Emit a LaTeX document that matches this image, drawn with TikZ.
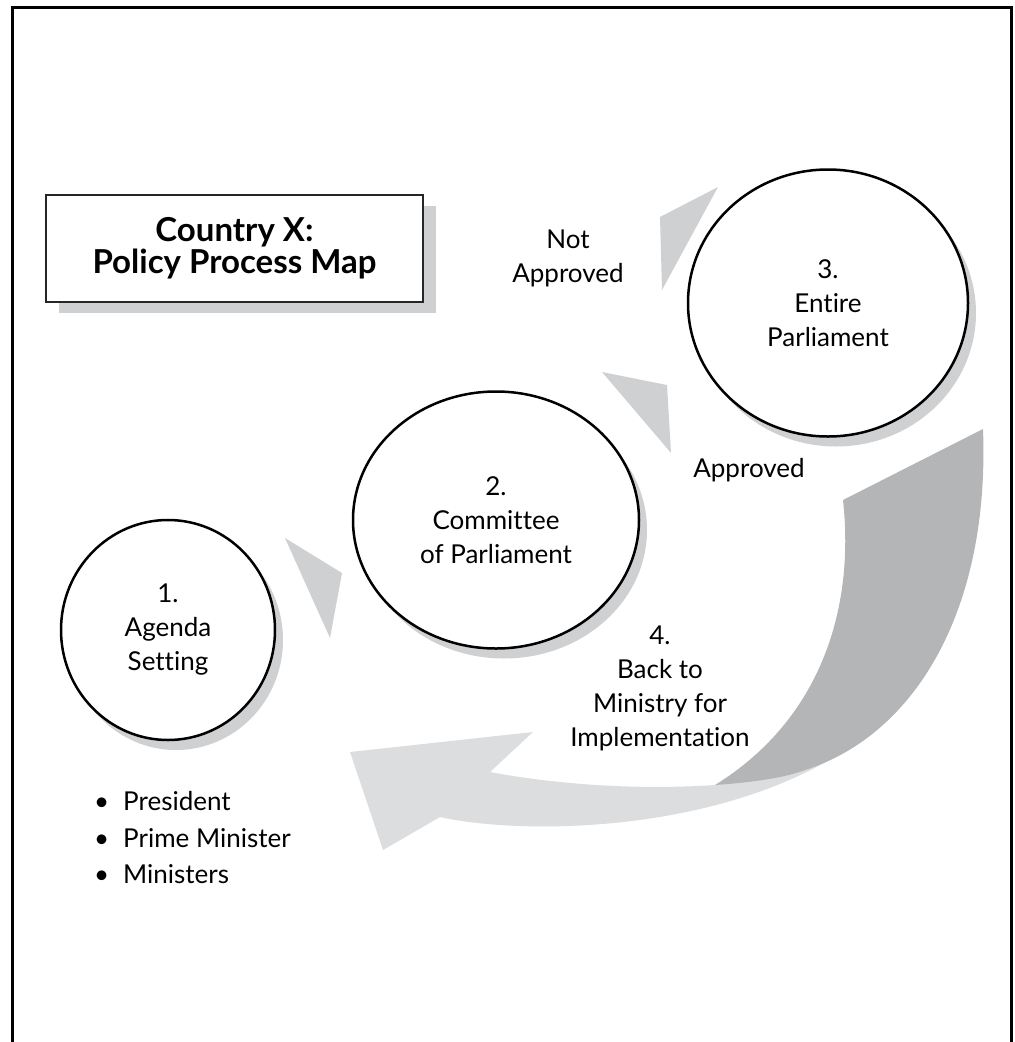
\documentclass[tikz,border=0pt]{standalone}
\usepackage{fontspec}
\setmainfont{Lato}[Ligatures={NoCommon}]
\usetikzlibrary{shapes.geometric,shadows}
\definecolor{tri}{HTML}{CFD0D2}
\definecolor{shade}{HTML}{CFD0D2}
\definecolor{arrowlight}{HTML}{DCDDDE}
\definecolor{arrowdark}{HTML}{B4B5B6}
\begin{document}
\begin{tikzpicture}[x=1pt,y=-1pt,
  stage/.style={ellipse, draw=black, line width=2.5pt, fill=white, align=center, inner sep=0pt,
    font=\fontsize{26}{34}\selectfont,
    drop shadow={shadow xshift=8pt, shadow yshift=-10pt, fill=shade, opacity=1}},
  lbl/.style={align=center, inner sep=0pt, font=\fontsize{26}{34}\selectfont},
  titlebox/.style={rectangle, draw=black!85, line width=1.3pt, fill=white, align=center,
    font=\fontsize{33}{32}\selectfont\bfseries,
    drop shadow={shadow xshift=13pt, shadow yshift=-11pt, fill=shade, opacity=1}},
  item/.style={anchor=base west, inner sep=0pt, font=\fontsize{26}{34}\selectfont},
  pointer/.style={fill=tri, draw=none}]
\useasboundingbox (0,0) rectangle (1015,1042);
% frame
\draw[line width=3pt, line join=miter] (12,1060) -- (12,7) -- (1011,7) -- (1011,1060);

% title
\node[titlebox, minimum width=377pt, minimum height=107pt] (title) at (234.5,248.5) {Country X:\\Policy Process Map};

% big return arrow (light part)
\fill[arrowlight] (715,785) .. controls (640,790) and (560,785) .. (490,772)
  -- (533,732) -- (350,752) -- (383,850) -- (440,817)
  .. controls (520,835) and (720,835) .. (852,746) -- cycle;
% big return arrow (dark part)
\fill[arrowdark] (983,429) -- (843,500) .. controls (855,610) and (820,720) .. (715,785)
  .. controls (760,782) and (790,776) .. (805,770)
  .. controls (915,735) and (990,610) .. (983,429) -- cycle;

% pointers
\fill[pointer] (285,538) -- (342,573) -- (330,638) -- cycle;
\fill[pointer] (602,372) -- (667,385) -- (671,453) -- cycle;
\fill[pointer] (660,217) -- (718,187) -- (662,290) -- cycle;

% stages
\node[stage, minimum width=214pt, minimum height=220pt] (s1) at (168,630) {1.\\Agenda\\Setting};
\node[stage, minimum width=286pt, minimum height=257pt] (s2) at (496,520) {2.\\Committee\\of Parliament};
\node[stage, minimum width=280pt, minimum height=267pt] (s3) at (828,303) {3.\\Entire\\Parliament};

% labels
\node[lbl] (notapp) at (568,258) {Not\\Approved};
\node[lbl] (app) at (749,470) {Approved};
\node[lbl] (back) at (660,688) {4.\\Back to\\Ministry for\\Implementation};

% actors
\node[item] (p1) at (94,810) {\makebox[29pt][l]{•}President};
\node[item] (p2) at (94,847) {\makebox[29pt][l]{•}Prime Minister};
\node[item] (p3) at (94,883) {\makebox[29pt][l]{•}Ministers};
\end{tikzpicture}
\end{document}
